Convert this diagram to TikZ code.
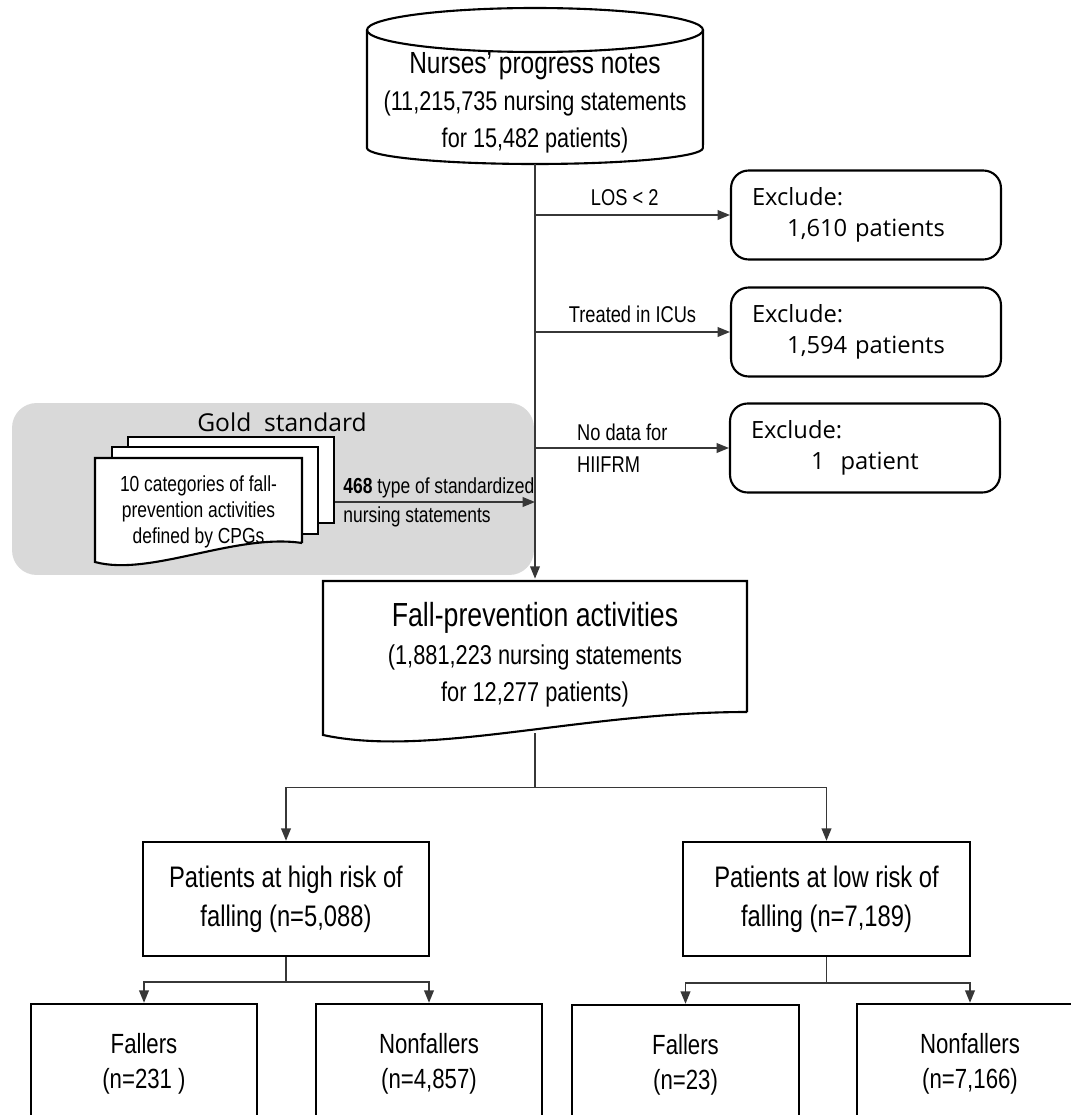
\documentclass[tikz,border=0pt]{standalone}
\usepackage{fontspec}
\setmainfont{Liberation Sans}[FakeStretch=0.8]
\newfontfamily\exclfont{Open Sans}
\usepackage{xcolor}
\usepackage{tikz}
\usetikzlibrary{
  arrows.meta,
  positioning,
  calc
}
\definecolor{GoldGray}{RGB}{217, 217, 217}
\definecolor{LineGray}{RGB}{55, 55, 55}
\newcommand{\midline}[1]{\makebox[\linewidth][c]{#1}}
\tikzset{
    docline/.style={draw=black, line width=1.2pt},
    conn/.style={draw=LineGray, line width=0.85pt, -{Triangle[length=7pt, width=5.5pt]}},
    plainline/.style={draw=LineGray, line width=0.85pt},
    sidelabel/.style={font=\fontsize{13}{18}\selectfont, inner sep=1pt},
    exclbox/.style={draw, line width=1.2pt, rounded corners=10pt, fill=white, align=left,
        text width=4.56cm, inner xsep=0.42cm, inner ysep=0pt,
        minimum width=5.4cm, minimum height=1.78cm,
        font=\exclfont\fontsize{13.5}{17.6}\selectfont},
    pagebox/.style={draw, line width=1.2pt, fill=white, minimum width=4.12cm, minimum height=1.72cm, inner sep=0pt},
    riskbox/.style={draw, line width=1.4pt, fill=white, align=center, inner sep=0pt,
        minimum width=5.72cm, minimum height=2.28cm, font=\fontsize{16.9}{22}\selectfont},
    outbox/.style={draw, line width=1.4pt, fill=white, align=center, inner sep=0pt,
        minimum width=4.52cm, minimum height=2.4cm, font=\fontsize{15.8}{20}\selectfont}
}

\begin{document}
\begin{tikzpicture}[x=0.02cm, y=-0.02cm]
\useasboundingbox (0,0) rectangle (1071,1115);
\clip (0,0) rectangle (1071,1115);

% gold standard panel
\node[fill=GoldGray, rounded corners=14pt, minimum width=10.44cm, minimum height=3.44cm, inner sep=0pt] (gold) at (273,489) {};
\node[font=\exclfont\fontsize{14}{16}\selectfont] (goldtitle) at (282,422) {Gold\ \ standard};
\node[pagebox] (page3) at (231,480) {};
\node[pagebox, minimum height=1.74cm] (page2) at (215,490.5) {};
\draw[docline, fill=white] (302,543) -- (302,458) -- (95,458) -- (95,562)
    .. controls (150,577) and (235,533) .. (302,543);
\node[align=center, inner sep=0pt, font=\fontsize{12.4}{14.8}\selectfont] (cpg) at (198.5,512)
    {10 categories of fall-\\prevention activities\\defined by CPGs};

% nurses' notes (cylinder)
\node[align=center, inner sep=0pt, minimum height=2.44cm, font=\fontsize{15.4}{21}\selectfont] (notes) at (535,103)
    {{\fontsize{17.4}{21}\selectfont Nurses’ progress notes}\\(11,215,735 nursing statements\\for 15,482 patients)};
\draw[docline] (535,30) ellipse [x radius=3.36cm, y radius=0.44cm];
\draw[docline] (367,30) -- (367,148) arc[start angle=180, end angle=360, x radius=3.36cm, y radius=0.32cm] -- (703,30);

% fall-prevention activities (document)
\draw[docline] (747,712) -- (747,581) -- (323,581) -- (323,735)
    .. controls (430,758) and (580,712) .. (747,712);
\node[align=center, inner sep=0pt, minimum width=8.48cm, minimum height=3.04cm, font=\fontsize{15.5}{21.3}\selectfont] (fall) at (535,655)
    {{\fontsize{19}{21.3}\selectfont Fall-prevention activities}\\(1,881,223 nursing statements\\for 12,277 patients)};

\draw[conn] (notes.south) -- (fall.north);

% exclusions
\node[exclbox] (excl1) at (866,215) {Exclude:\\\midline{1,610 patients}};
\node[exclbox] (excl2) at (866,332) {Exclude:\\\midline{1,594 patients}};
\node[exclbox] (excl3) at (865,448) {Exclude:\\\midline{1\ \ patient}};

\draw[conn] (notes.south |- excl1.west) -- node[sidelabel, above=4pt, pos=0.46] {LOS < 2} (excl1.west);
\draw[conn] (notes.south |- excl2.west) -- node[sidelabel, above=4pt, pos=0.5] {Treated in ICUs} (excl2.west);
\draw[conn] (notes.south |- excl3.west) -- (excl3.west);
\node[sidelabel, anchor=west, align=left] (nodata) at ($(notes.south |- excl3.west)+(40,0)$) {No data for\\HIIFRM};

% gold standard -> main line
\coordinate (stdfrom) at ($(page3.east)+(0,22)$);
\draw[conn] (stdfrom) -- (stdfrom -| notes.south);
\node[anchor=west, align=left, inner sep=0pt, font=\fontsize{12.4}{16.5}\selectfont] (stdlabel) at ($(stdfrom)+(8,0)$)
    {\textbf{468} type of standardized\\nursing statements};

% risk groups
\node[riskbox] (high) at (286,899) {Patients at high risk of\\falling (n=5,088)};
\node[riskbox, minimum width=5.74cm] (low) at (826.5,899) {Patients at low risk of\\falling (n=7,189)};
\coordinate (split) at ($(fall.south)+(0,56)$);
\draw[plainline] (535,733) -- (split);
\draw[conn] (split) -| (high.north);
\draw[conn] (split) -| (low.north);

% outcomes
\node[outbox] (fallA) at (144,1064) {Fallers\\(n=231 )};
\node[outbox] (nonfA) at (429,1064) {Nonfallers\\(n=4,857)};
\node[outbox, minimum width=4.54cm] (fallB) at (685.5,1065) {Fallers\\(n=23)};
\node[outbox] (nonfB) at (970,1064) {Nonfallers\\(n=7,166)};
\coordinate (hsplit) at ($(high.south)+(0,25)$);
\coordinate (lsplit) at ($(low.south)+(0,26)$);
\draw[plainline] (high.south) -- (hsplit);
\draw[conn] (hsplit) -| (fallA.north);
\draw[conn] (hsplit) -| (nonfA.north);
\draw[plainline] (low.south) -- (lsplit);
\draw[conn] (lsplit) -| (fallB.north);
\draw[conn] (lsplit) -| (nonfB.north);
\end{tikzpicture}
\end{document}
